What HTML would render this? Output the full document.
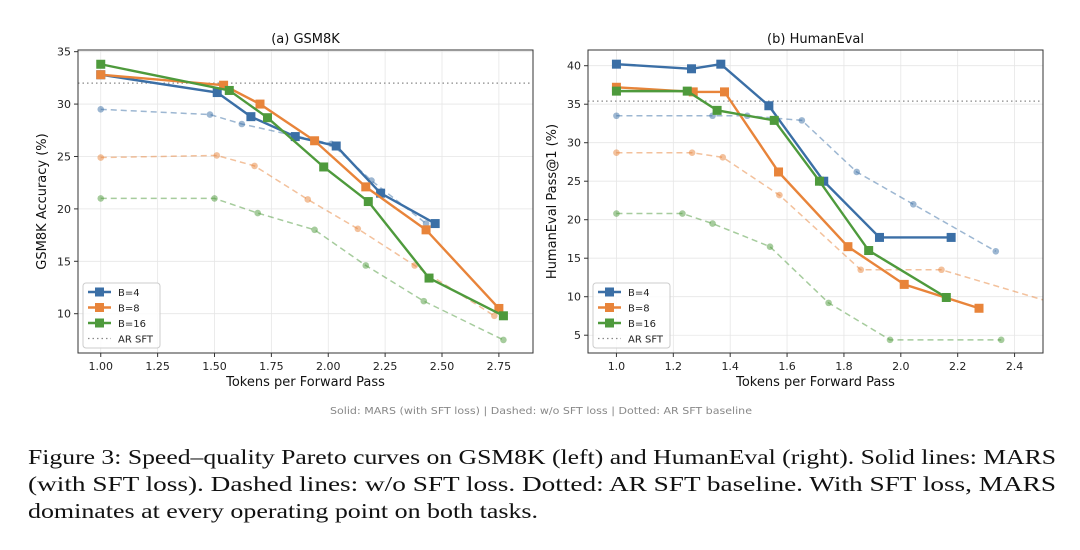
<!DOCTYPE html>
<html><head><meta charset="utf-8"><style>
body{margin:0;background:#fff;width:1080px;height:550px;overflow:hidden}
svg{display:block;font-family:"DejaVu Sans","Liberation Sans",sans-serif}
.cap{font-family:"Liberation Serif","Times New Roman",serif;font-size:21px;fill:#111}
</style></head><body>
<svg id="fig" width="1080" height="550" viewBox="0 0 1080 550"></svg>
<script>
const seriesNames=["B=4","B=8","B=16"];
const colors=["#3b6fa6","#e8843a","#4e9a3c"];
// GSM8K
const gX4=[1.0,1.512,1.66,1.855,2.035,2.23,2.47];
const gY4=[32.8,31.1,28.8,26.9,26.0,21.5,18.6];
const gX8=[1.0,1.54,1.70,1.94,2.165,2.43,2.75];
const gY8=[32.8,31.8,30.0,26.5,22.1,18.0,10.5];
const gX16=[1.0,1.565,1.733,1.98,2.176,2.443,2.77];
const gY16=[33.8,31.3,28.7,24.0,20.7,13.4,9.8];
const gdX4=[1.0,1.48,1.62,2.014,2.19,2.43];
const gdY4=[29.5,29.0,28.1,26.2,22.7,18.6];
const gdX8=[1.0,1.51,1.676,1.91,2.13,2.38,2.73];
const gdY8=[24.9,25.1,24.1,20.9,18.1,14.6,9.8];
const gdX16=[1.0,1.50,1.69,1.94,2.165,2.42,2.77];
const gdY16=[21.0,21.0,19.6,18.0,14.6,11.2,7.5];
const gAR=32.0;
const gXTicks=[1.0,1.25,1.5,1.75,2.0,2.25,2.5,2.75];
const gXLabels=["1.00","1.25","1.50","1.75","2.00","2.25","2.50","2.75"];
const gYTicks=[10,15,20,25,30,35];
// HumanEval
const hX4=[1.0,1.264,1.367,1.536,1.729,1.925,2.177];
const hY4=[40.2,39.6,40.2,34.8,25.0,17.7,17.7];
const hX8=[1.0,1.27,1.38,1.57,1.814,2.012,2.275];
const hY8=[37.2,36.6,36.6,26.2,16.5,11.6,8.5];
const hX16=[1.0,1.249,1.354,1.555,1.714,1.887,2.16];
const hY16=[36.7,36.7,34.2,32.9,25.0,16.0,9.9];
const hdX4=[1.0,1.338,1.46,1.652,1.845,2.044,2.334];
const hdY4=[33.5,33.5,33.5,32.9,26.2,22.0,15.9];
const hdX8=[1.0,1.266,1.374,1.573,1.859,2.143,2.7];
const hdY8=[28.7,28.7,28.1,23.2,13.5,13.5,7.4];
const hdX16=[1.0,1.232,1.338,1.54,1.746,1.962,2.353];
const hdY16=[20.8,20.8,19.5,16.5,9.2,4.4,4.4];
const hAR=35.4;
const hXTicks=[1.0,1.2,1.4,1.6,1.8,2.0,2.2,2.4];
const hXLabels=["1.0","1.2","1.4","1.6","1.8","2.0","2.2","2.4"];
const hYTicks=[5,10,15,20,25,30,35,40];

const NS="http://www.w3.org/2000/svg";
const svg=document.getElementById('fig');
function mk(tag,attrs,parent){const e=document.createElementNS(NS,tag);for(const k in attrs)e.setAttribute(k,attrs[k]);(parent||svg).appendChild(e);return e;}

function panel(id,box,xr,yr,title,ytitle,xt,xl,yt,solid,dashed,ar){
  const g=mk('g',{});
  
  
  const sx=v=>box.x0+(v-xr[0])/(xr[1]-xr[0])*(box.x1-box.x0);
  const sy=v=>box.y1-(v-yr[0])/(yr[1]-yr[0])*(box.y1-box.y0);
  const cid='clip-'+id;
  const cp=mk('clipPath',{id:cid},g);mk('rect',{x:box.x0,y:box.y0,width:box.x1-box.x0,height:box.y1-box.y0},cp);
  xt.forEach((t,i)=>{
    const l=mk('line',{x1:sx(t),x2:sx(t),y1:box.y0,y2:box.y1,stroke:'#e6e6e6','stroke-width':0.8},g);
    
    mk('line',{x1:sx(t),x2:sx(t),y1:box.y1,y2:box.y1+4,stroke:'#333'},g);
    const tx=mk('text',{x:sx(t),y:box.y1+17,'text-anchor':'middle','font-size':11,fill:'#222'},g);
    tx.textContent=xl[i];
    
  });
  yt.forEach(t=>{
    const l=mk('line',{x1:box.x0,x2:box.x1,y1:sy(t),y2:sy(t),stroke:'#e6e6e6','stroke-width':0.8},g);
    
    mk('line',{x1:box.x0-4,x2:box.x0,y1:sy(t),y2:sy(t),stroke:'#333'},g);
    const tx=mk('text',{x:box.x0-7,y:sy(t)+4,'text-anchor':'end','font-size':11,fill:'#222'},g);
    tx.textContent=String(t);
    
  });
  const pg=mk('g',{'clip-path':'url(#'+cid+')'},g);
  const arl=mk('line',{x1:box.x0,x2:box.x1,y1:sy(ar),y2:sy(ar),stroke:'#888','stroke-width':1.3,'stroke-dasharray':'1.5 3'},pg);
  
  dashed.forEach((s,i)=>{
    const pts=s[0].map((x,j)=>sx(x)+','+sy(s[1][j])).join(' ');
    const pl=mk('polyline',{points:pts,fill:'none',stroke:colors[i],'stroke-opacity':0.5,'stroke-width':1.5,'stroke-dasharray':'6 4'},pg);
    
    
    s[0].forEach((x,j)=>{
      const c=mk('circle',{cx:sx(x),cy:sy(s[1][j]),r:3.3,fill:colors[i],'fill-opacity':0.5},pg);
      
    });
  });
  solid.forEach((s,i)=>{
    const pts=s[0].map((x,j)=>sx(x)+','+sy(s[1][j])).join(' ');
    const pl=mk('polyline',{points:pts,fill:'none',stroke:colors[i],'stroke-width':2.4},pg);
    
    
    s[0].forEach((x,j)=>{
      const r=mk('rect',{x:sx(x)-4.5,y:sy(s[1][j])-4.5,width:9,height:9,fill:colors[i]},pg);
      
    });
  });
  const fr=mk('rect',{x:box.x0,y:box.y0,width:box.x1-box.x0,height:box.y1-box.y0,fill:'none',stroke:'#333','stroke-width':1},g);
  
  const tt=mk('text',{x:(box.x0+box.x1)/2,y:box.y0-7,'text-anchor':'middle','font-size':13,fill:'#111'},g);
  tt.textContent=title;
  const xa=mk('text',{x:(box.x0+box.x1)/2,y:box.y1+33,'text-anchor':'middle','font-size':13,fill:'#111'},g);
  xa.textContent='Tokens per Forward Pass';
  const ya=mk('text',{x:0,y:0,'text-anchor':'middle','font-size':13,fill:'#111',transform:'translate('+(box.ytx)+','+((box.y0+box.y1)/2)+') rotate(-90)'},g);
  ya.textContent=ytitle;
  const lg=mk('g',{},g);
  
  const lx=box.x0+5,ly=box.y1-70;
  mk('rect',{x:lx,y:ly,width:77,height:65,rx:3,fill:'#fff','fill-opacity':0.85,stroke:'#ccc'},lg);
  seriesNames.forEach((n,i)=>{
    const yy=ly+9+i*15.5;
    mk('line',{x1:lx+5,x2:lx+28,y1:yy,y2:yy,stroke:colors[i],'stroke-width':2.4},lg);
    mk('rect',{x:lx+12,y:yy-4.5,width:9,height:9,fill:colors[i]},lg);
    const t=mk('text',{x:lx+35,y:yy+4,'font-size':10,fill:'#222'},lg);t.textContent=n;
    
  });
  const yy=ly+9+3*15.5;
  mk('line',{x1:lx+5,x2:lx+28,y1:yy,y2:yy,stroke:'#888','stroke-width':1.3,'stroke-dasharray':'1.5 3'},lg);
  const t=mk('text',{x:lx+35,y:yy+4,'font-size':10,fill:'#222'},lg);t.textContent='AR SFT';
  
}
panel('gsm8k',{x0:78,x1:533,y0:50,y1:353,ytx:46},[0.9,2.9],[6.25,35.16],'(a) GSM8K','GSM8K Accuracy (%)',gXTicks,gXLabels,gYTicks,
  [[gX4,gY4],[gX8,gY8],[gX16,gY16]],[[gdX4,gdY4],[gdX8,gdY8],[gdX16,gdY16]],gAR);
panel('humaneval',{x0:588,x1:1043,y0:50,y1:353,ytx:556},[0.9,2.5],[2.69,42.04],'(b) HumanEval','HumanEval Pass@1 (%)',hXTicks,hXLabels,hYTicks,
  [[hX4,hY4],[hX8,hY8],[hX16,hY16]],[[hdX4,hdY4],[hdX8,hdY8],[hdX16,hdY16]],hAR);
</script>
<div style="position:absolute;left:0;top:0;width:1080px;height:550px;pointer-events:none">
<svg width="1080" height="550" style="position:absolute;left:0;top:0">
<text x="541" y="414" text-anchor="middle" font-size="9.5" fill="#888" textLength="422" lengthAdjust="spacingAndGlyphs">Solid: MARS (with SFT loss)  |  Dashed: w/o SFT loss  |  Dotted: AR SFT baseline</text>
<g class="cap">
<text class="cap" x="28" y="464" textLength="1028" lengthAdjust="spacingAndGlyphs">Figure 3: Speed–quality Pareto curves on GSM8K (left) and HumanEval (right). Solid lines: MARS</text>
<text class="cap" x="28" y="491" textLength="1028" lengthAdjust="spacingAndGlyphs">(with SFT loss). Dashed lines: w/o SFT loss. Dotted: AR SFT baseline. With SFT loss, MARS</text>
<text class="cap" x="28" y="518" textLength="510" lengthAdjust="spacingAndGlyphs">dominates at every operating point on both tasks.</text>
</g>
</svg></div>
</body></html>
